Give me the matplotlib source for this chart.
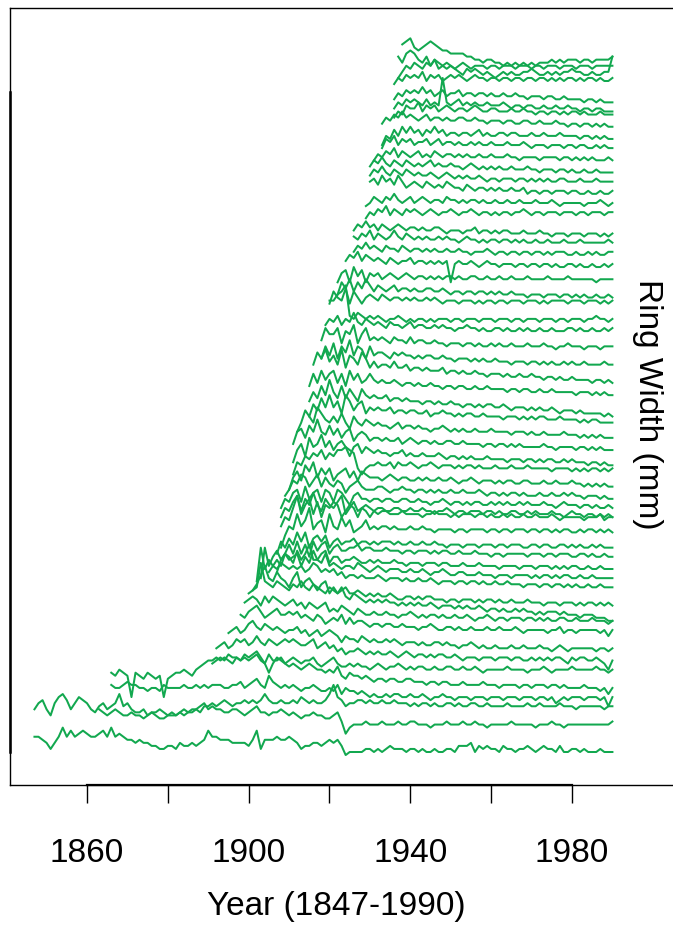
import numpy as np
import matplotlib
matplotlib.use('Agg')
import matplotlib.pyplot as plt

plt.rcParams['font.family'] = ['Liberation Sans', 'DejaVu Sans']

########################################################## Data #############################################################

# one string per core, one base-36 character per year, 0.25 mm per step
# every core ends in 1990 so the first year follows from the length
last_year = 1990
mm_per_step = 0.25

ring_codes = [
    "ccba 8acfcecded ccdecfcdcb babaa99889 98a99a9abe ccbbbaaaa9 be8bbbcbbc ba899aa9ab ab96777788 7878988878 8787787788 7999a79898 8798878898 7898879778 8787778777",
    "hjkh fjlmkhjlkj hgijhijmij hgghfgghgf gfghgghijh ihhgghhgfg higgfgghgf gfeffgffee fgd9bcccdc ccdcccdccd dcccbcccdc ccdccdccbc ccccdccccc bcccdccbcc cccccccccd",
    "dcbcdcbb cbbabcbaab bbcbcddcee fefgfeffgf gfgigffgff gfhgfgffgi lhgeffggfg ffgffgfffe feffefeeff efeeffeefe eeefeeeefe efeeeefeee deeeeeedee",
    "hgghi hhggfggfhg ggghgghghg hhhgghhigh ijhgkihghg hgfgghgffg fhegffefed eddedeedde ddedcddedd cdddcdddcd ddcdddcddd cddcdbcdcd ddcdddcdad",
    "hgihg 9hgfhgfg9f ghhihgijkl lmlmlkmlml mnlkhkmlkj kjijkjiihi hjgfhggfgf effeffeeff eeedeedeed ddeddddedd dcddddcddc dddcddcdcc ccdcccbcac",
    "ghihjiihji jkigjhhigh ihghhigfgh igffgfgffe fgfeffgfef effeefeeff eefeefedee eeefeeeede eefedeeeef eeeeefeede",
    "hijhikjki jljikjijkj kjiijkhijh ighfgghgfg fgffgfefgf effefeffee fedeeedeee deeedeedde dededeedce deeddedcad",
    "ijkijl mkjlkjkjij jkijhijhij ihfhggfhgf gffgfgfeff fefeeffefe edeefededd edddeddedd deddcdedcd dddddcddcd",
    "kjl mnljklmkkl kljkjikjhi jikhjhiihg hhghhgghgg gfgghgffgg fgffgfffgf fgfffgfeff fffeffgeff efffffefdf",
    "kl mljmkmlkjk ljkikjijkh ihjihgihgg hgghggfggh gfgfggfgff gffgfeffgf effefffeff efefeeffee feeefeeede",
    "j kltnmlnmlk mlnlkmlkjl kjlihjihgh ghghggfgfg fgffgfefff efefeefede ededdededd cdcdddcdcc cbcccbbbaa",
    "gilokjmkjh kmhjkigijf hfghffgfef efeefeddee dedeedddcd dcdddcdcdd cdccdcccdc ccbcccbccc bcbccbcbcb",
    "fqjmkjlkj kjkijlkiji jhighhghgg ghgfgggfgf fgffgfefff effeffefee feefeeedee edeedeeded eddeddeddd",
    "cmgjliki jkgjhlihkg hgfggfhgfe fgfefffeef eefedeefed deedddeddd cdddcddddc dcddcdcddc cdccdccccc",
    "acecgf dhegjeeghd ffdeefedde dedddeddcd ddcdddcddc ccdcccdccc cbccccbccc bcccbcbcbc cbbcbbcbbb",
    "6acf cgcfbgdfgc efddeefdee dddedddcdd cdddcdcddc cdcccdcccb ccbcccccbc ccbccbcccb bccbcbbcbb",
    "8cad bfcfadecea cdbccdbccb cbcccbcbbc bbcbbcbbab bbabbbabbb abbabbbaab babbaabbab abaababaaa",
    "6ad chdfjcefbh dcgdfbcdfc dcddcdcccd ccdccbcccc bccbccccbc cbccbcccbc cbccbcbccb bcbccbcbcb",
    "9cb fjdgidhcgf hgcegfcfec edeedddedd ddcddedddc dcdddcddcd ccdcdccdcc dcccdcbccc ccbcccdbcc",
    "8ba dfaecgcaec bdf9bdabcb abbaabbaab aabaa9aaba 9aa9aaa9aa 9a99aa99a9 a999a9989a 9989989898",
    "7a9 cd9eacd9dc 9dca8bcaa9 aa9aa99aa9 9a99899a98 9989899889 8989889898 8898878988 8788787787",
    "79 cbedaceadb acb8abca99 9aa9899a99 8998989889 8898889878 8787887877 7877877878 7767776766",
    "5 9b8dbe9cac 8abc9b8ba9 9989a98998 8989889889 8788987888 7878877887 7787787778 7767676766",
    "6a9cbdcebd ceefed8689 9a99a8a99a 9899a98999 8989989888 9888988898 8888788887 8787887878",
    "6ac8ebcfbd acdb8bc9ba 9a99899a89 8898889878 8787877787 7776777677 6767766767 6665665655",
    "8cdaecgcbe bdacd9bcb9 aa9a99a89a 9899898899 8898888788 7887878777 7787767777 6776767666",
    "8bfdbgecb dbeb9dbacb abaa9ab9aa 9a99899a98 9898898889 8888788878 7787777877 7676767666",
    "9dbfcg ceagebdeac bcbbcabbab baab9aabaa 9a9aa99a99 9989998989 8998889888 8787887777",
    "adbfch dbfbecaecb cbbcabbaba aa9aa9a99a 9989989899 8898788878 7877876777 6766666565",
    "bfcgdf gcfbgdfcdf dcdccdcbcc bcbbcbbabb abbaabaaba aaa9aa9aa9 9a99a99999 8999898988",
    "eigjf hejdhgeigd fdeedfddec ddcdcccdbc cbcbbcbbab bbabaabaab aa9aa9a99a 9999899898",
    "cgd hcgeidgfcg deedcededd cdcddccdcc bcccbcbcbb cbbbabbbab bababaabab aabaaaabaa",
    "eig gidhgjdgie fefedfeedf deeddeddcd ddcddcdccd cdccdcccdc ccdccbccdc ccbcccbccc",
    "fh gifhgjgfhg fgfegffefg effeefefee deefeededd eededdeded deddedddee deddeddede",
    "j jlmoedfede dedcddedcd cddcdcdddc ddcdddcddd cdddcddcdd dcdddcddcd ddcddeddcd",
    "e igfjeigegh gfhgfggfgf gffgfgfeff fefffefeff effefffeff fefeffffef ffefffefef",
    "dhfiehfig egfefgeffe feeffeefed eedeedeede deddedddcd ddcdddcddc dcdccdccdc",
    "dghdifhdg fgefgfefgf effefefeff efeeffeefe efeefeeefe eeefeeeefe eeeeedeeee",
    "gihjgih ghgfhgfggh fggfgfgfg9 fgffgfefgf fefffeffef feffefeeff efeefeefef",
    "fhgig hgfhggfhgf ggfgfgffgf fgffefffgf effeffeffe ffefefffee feefefeeff",
    "gfhgi fhgfgigfhg fgfgffgfgf fefgffefef feffefefee feefeeefee efeeeeeefe",
    "egfhf gegfefgfef fefeeffede eedeefdeed edeedddedd deddcdddcd ddcdddcdcd",
    "eg fhgifhgfhg hgfghgfggh gfgghgfggf gfggfgghgf ggfgggfggg fggfgggfgg",
    "ef hgfhgigfgh fghgfggfhg gfgfggfgff gffgffgfff gfffgfefff ffefffgfef",
    "i jhkijhkigh ihgihghgih ggfhgfggfg fgffgffgef feffefffef feefeefeef",
    "g ihjhgihgih ghgghgfghg fgfgffgfef fefffeffef efefeeffee efeeefeeee",
    "f hgigfhgfhg fgfghfgffg ffefgfefef efeefeeefe edeeedeede ddeddedddd",
    "dfegfhegfe fgefegfeff efefeefeef eeefeedeee edeeeedeed edededdded",
    "dgfhegfg effgefgeff efeefefeef eeefeeefed eeedeeedee deeddededd",
    "adcfdgeg efdfegefde edeedefded deedeeddde ddedddeddd dcddcdcdcc",
    "dfegfhfg fefgeffefe effeefeede eedeeddeed dedddeddcd dcddcdcdcc",
    "bdcfe egdfefdefe deedefedde edddeddedd cddcddcdcd dcdcccdccc",
    "acbdc dcbdbcbkcb cdbcbcbbcb bbcbabbabb aabaabaaba a9aa9aa999",
    "9bacb cbdbcabcab bcabbabbab aabaabaa9a aa9aa99a99 9989989888",
    "acbdc dcebdcdbcd cdcbcdccbc cbccbccbcc bccbcbcbcc bcbccbcbbc",
    "8acb dcbdcebcdc bcdcbcccbc cbcccbcccb ccbcccbccc bcccbccccc",
    "b9cd ca9b8a9878 7657676565 4565655667 6556565667 665565566b",
    "bcd a9abcba998 8887766566 5545454545 4555656566 6566566667",
]

x_ticks = [1860, 1880, 1900, 1920, 1940, 1960, 1980]
x_tick_labels = ['1860', '', '1900', '', '1940', '', '1980']

line_col = '#12a84f'

########################################################## Plot #############################################################

fig = plt.figure(figsize = (6.73, 9.25), dpi = 100)
ax = fig.add_axes([10 / 673, 140 / 925, 1.0, 777 / 925])

for i, code in enumerate(ring_codes):

    rw = np.array([int(ch, 36) for ch in code.replace(' ', '')]) * mm_per_step
    yrs = np.arange(last_year - len(rw) + 1, last_year + 1)
    ax.plot(yrs, rw + i, color = line_col, lw = 1.45)

px_per_year = (572 - 87) / 120
x_left = 1860 - 77 / px_per_year
ax.set_xlim(x_left, x_left + 673 / px_per_year)
ax.set_ylim(-0.955, -0.955 + 777 / 12.2)

ax.set_xticks(x_ticks)
ax.set_xticklabels(x_tick_labels)
ax.set_yticks([])
ax.tick_params(axis = 'x', length = 13, width = 1.0, pad = 25, labelsize = 24, direction = 'out')

for sp in ax.spines.values():
    sp.set_linewidth(1.0)

# axis lines drawn over the box, as R does
ax.plot([x_ticks[0], x_ticks[-1]], [0, 0], transform = ax.get_xaxis_transform(), color = 'black', lw = 1.6, clip_on = False)
ax.plot([0, 0], [0.0425, 0.892], transform = ax.transAxes, color = 'black', lw = 1.8, clip_on = False)

fig.text(336 / 673, 1 - 907 / 925, 'Year (1847-1990)', ha = 'center', va = 'center', fontsize = 24)
fig.text(648 / 673, 1 - 404 / 925, 'Ring Width (mm)', rotation = 270, ha = 'center', va = 'center', fontsize = 24)

fig.savefig('out.png', dpi = 100)
plt.close()
